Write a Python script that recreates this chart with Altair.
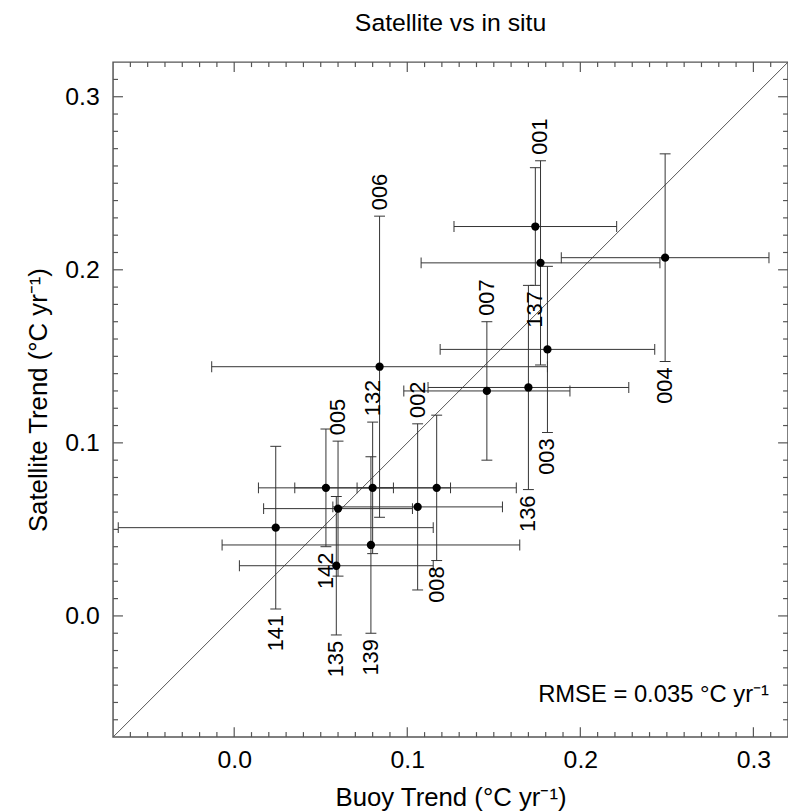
import altair as alt
import pandas as pd

# ---- data ----
ids = ["001", "137", "004", "006", "003", "007", "136", "002",
       "132", "005", "142", "008", "141", "135", "139"]
buoy = [0.177, 0.174, 0.249, 0.084, 0.181, 0.146, 0.170, 0.106,
        0.080, 0.060, 0.053, 0.117, 0.024, 0.059, 0.079]
sat = [0.204, 0.225, 0.207, 0.144, 0.154, 0.130, 0.132, 0.063,
       0.074, 0.062, 0.074, 0.074, 0.051, 0.029, 0.041]
buoy_err = [0.069, 0.047, 0.060, 0.097, 0.062, 0.048, 0.058, 0.049,
            0.045, 0.043, 0.039, 0.046, 0.091, 0.056, 0.086]
sat_err = [0.059, 0.034, 0.060, 0.087, 0.048, 0.040, 0.059, 0.048,
           0.038, 0.039, 0.034, 0.042, 0.047, 0.040, 0.051]
label_side = ["top", "bottom", "bottom", "top", "bottom", "top", "bottom", "top",
              "top", "top", "bottom", "bottom", "bottom", "bottom", "bottom"]

domain = [-0.07, 0.32]
major_ticks = [0.0, 0.1, 0.2, 0.3]
minor_ticks = [round(i * 0.01, 2) for i in range(-6, 32) if i % 10 != 0]
rmse_text = "RMSE = 0.035 °C yr⁻¹"
rmse_pos = [0.309, -0.05]

FONT = "Liberation Sans, Arial, Helvetica, sans-serif"
W = 681
H = 681
FRAME = "#555555"
MAJOR_LEN = 10
MINOR_LEN = 5

df = pd.DataFrame({
    "id": ids, "buoy": buoy, "sat": sat,
    "bx": buoy_err, "sy": sat_err, "side": label_side,
})
df["xlo"] = df["buoy"] - df["bx"]
df["xhi"] = df["buoy"] + df["bx"]
df["ylo"] = df["sat"] - df["sy"]
df["yhi"] = df["sat"] + df["sy"]

xs = alt.Scale(domain=domain, nice=False, zero=False)
ys = alt.Scale(domain=domain, nice=False, zero=False)

AX = alt.Axis(orient="bottom", values=major_ticks, format=".1f", ticks=False,
              tickSize=0, domain=False, grid=False, labelFont=FONT,
              labelFontSize=25, labelColor="black", labelPadding=11,
              title="Buoy Trend (°C yr⁻¹)", titleFont=FONT, titleFontSize=26,
              titleFontWeight="normal", titleColor="black", titlePadding=12)
AY = alt.Axis(orient="left", values=major_ticks, format=".1f", ticks=False,
              tickSize=0, domain=False, grid=False, labelFont=FONT,
              labelFontSize=25, labelColor="black", labelPadding=14,
              title="Satellite Trend (°C yr⁻¹)", titleFont=FONT, titleFontSize=26,
              titleFontWeight="normal", titleColor="black", titlePadding=13)


def X(field):
    return alt.X(field + ":Q", scale=xs, axis=AX)


def Y(field):
    return alt.Y(field + ":Q", scale=ys, axis=AY)


line_df = pd.DataFrame({"v": domain})
diag = alt.Chart(line_df).mark_line(color="#555555", strokeWidth=1).encode(
    x=X("v"), y=Y("v"),
)


# inward-pointing ticks on all four sides of the frame
def edge_ticks(values, length, side):
    d = pd.DataFrame({"v": values})
    d["lo"] = domain[0]
    d["hi"] = domain[1]
    c = alt.Chart(d)
    if side in ("bottom", "top"):
        off = -length / 2 if side == "bottom" else length / 2
        m = c.mark_tick(orient="vertical", size=length, thickness=1.2, color=FRAME,
                        opacity=1, yOffset=off)
        return m.encode(x=X("v"), y=Y("lo" if side == "bottom" else "hi"))
    off = length / 2 if side == "left" else -length / 2
    m = c.mark_tick(orient="horizontal", size=length, thickness=1.2, color=FRAME,
                    opacity=1, xOffset=off)
    return m.encode(x=X("lo" if side == "left" else "hi"), y=Y("v"))


tick_layers = []
for side in ("bottom", "top", "left", "right"):
    tick_layers.append(edge_ticks(minor_ticks, MINOR_LEN, side))
    tick_layers.append(edge_ticks(major_ticks, MAJOR_LEN, side))

base = alt.Chart(df)
ebar_color = "#333333"

hbar = base.mark_rule(color=ebar_color, strokeWidth=1).encode(
    x=X("xlo"), x2="xhi:Q", y=Y("sat"),
)
vbar = base.mark_rule(color=ebar_color, strokeWidth=1).encode(
    x=X("buoy"), y=Y("ylo"), y2="yhi:Q",
)


def cap(xf, yf, orient):
    return base.mark_tick(orient=orient, size=11, thickness=1, color=ebar_color,
                          opacity=1).encode(x=X(xf), y=Y(yf))


caps = [cap("xlo", "sat", "vertical"), cap("xhi", "sat", "vertical"),
        cap("buoy", "ylo", "horizontal"), cap("buoy", "yhi", "horizontal")]

points = base.mark_circle(size=70, color="black", opacity=1).encode(
    x=X("buoy"), y=Y("sat"),
)

lab_top = base.transform_filter(alt.datum.side == "top").mark_text(
    angle=270, align="left", baseline="middle", dx=6, font=FONT, fontSize=22,
    color="black").encode(x=X("buoy"), y=Y("yhi"), text="id:N")
lab_bot = base.transform_filter(alt.datum.side == "bottom").mark_text(
    angle=270, align="right", baseline="middle", dx=-6, font=FONT, fontSize=22,
    color="black").encode(x=X("buoy"), y=Y("ylo"), text="id:N")

rmse_df = pd.DataFrame({"x": [rmse_pos[0]], "y": [rmse_pos[1]], "t": [rmse_text]})
rmse = alt.Chart(rmse_df).mark_text(align="right", baseline="alphabetic", font=FONT,
                                    fontSize=24, color="black").encode(
    x=X("x"), y=Y("y"), text="t:N",
)

chart = alt.layer(
    diag, *tick_layers, hbar, vbar, *caps, points, lab_top, lab_bot, rmse
).properties(
    width=W, height=H,
    background="white",
    autosize=alt.AutoSizeParams(type="none"),
    padding={"left": 106, "top": 51, "right": 0, "bottom": 72},
    title=alt.TitleParams("Satellite vs in situ", font=FONT, fontSize=25,
                          fontWeight="normal", color="black", anchor="middle",
                          offset=24),
).configure_view(
    stroke=FRAME, strokeWidth=1.5
)

chart.save("out.html", embed_options={"renderer": "svg", "actions": False})
